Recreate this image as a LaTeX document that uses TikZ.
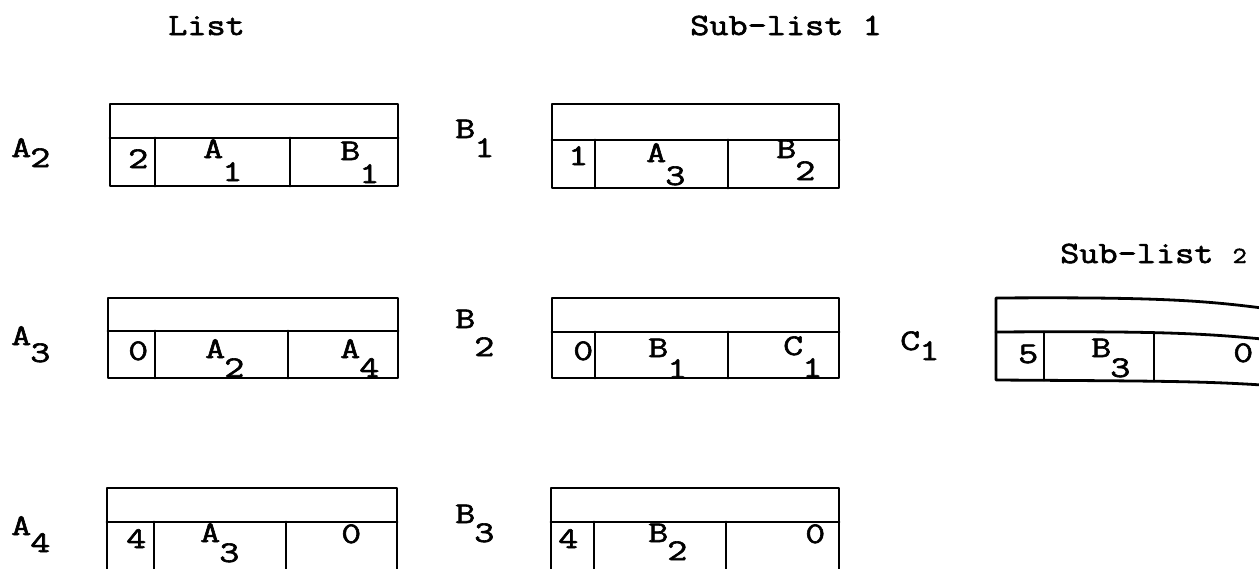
\documentclass[tikz,border=0pt]{standalone}
\usepackage{fontspec}
\newfontfamily\tw[FakeStretch=1.2,FakeBold=2]{Latin Modern Mono}
\newfontfamily\twwide[FakeStretch=1.3,FakeBold=2]{Latin Modern Mono}
% letter with a lowered index: #1 letter, #2 index, #3 drop in pt
\newcommand\idx[3]{#1\kern-1pt\raisebox{-#3pt}{#2}}
\tikzset{
  rule/.style={line width=2.8pt, line cap=round, line join=round},
  txt/.style={anchor=base west, inner sep=0pt, font=\twwide\fontsize{30}{32}\selectfont},
  head/.style={anchor=base west, inner sep=0pt, font=\tw\fontsize{31}{33}\selectfont}
}
% record box: x0 x1 ytop ymid ybot divider1 divider2
\newcommand\recbox[7]{%
  \draw[rule] (#1,#3) rectangle (#2,#5);
  \draw[rule] (#1,#4) -- (#2,#4);
  \draw[rule] (#6,#4) -- (#6,#5);
  \draw[rule] (#7,#4) -- (#7,#5);
}
\begin{document}
\begin{tikzpicture}[x=1pt,y=-1pt]
\clip (0,0) rectangle (1259,568);
\fill[white] (0,0) rectangle (1259,568);

% headings
\node[head] (hlist) at (168,35) {List};
\node[head] (hsub1) at (690,35) {Sub-list 1};
\node[head] (hsub2) at (1060,263) {Sub-list {\fontsize{23}{25}\selectfont 2}};

% list records
\recbox{110}{398}{104}{138}{186}{155}{290}
\recbox{108}{398}{298}{331}{378}{155}{288}
\recbox{107}{397}{488}{522}{572}{154}{286}
% sub-list 1 records
\recbox{552}{839}{104}{140}{188}{595}{728}
\recbox{552}{839}{298}{332}{378}{595}{728}
\recbox{551}{839}{488}{522}{572}{594}{726}
% sub-list 2 record, running off to the right
\draw[rule] (1262,308) .. controls (1200,300) and (1150,297) .. (996,298) -- (996,380)
  .. controls (1150,381) and (1200,381) .. (1262,385);
\draw[rule] (996,332) .. controls (1150,331) and (1200,333) .. (1262,339);
\draw[rule] (1044,332) -- (1044,380);
\draw[rule] (1154,333) -- (1154,381);

% record names
\node[txt] (la2) at (11,157) {\bfseries\idx{A}{2}{10}};
\node[txt] (la3) at (11,345) {\idx{A}{3}{17}};
\node[txt] (la4) at (11,535) {\idx{A}{4}{17}};
\node[txt] (lb1) at (455,138) {\idx{B}{1}{19}};
\node[txt] (lb2) at (455,328) {\idx{B}{2}{28}};
\node[txt] (lb3) at (455,523) {\idx{B}{3}{19}};
\node[txt] (lc1) at (900,350) {\idx{C}{1}{10}};

% record A2
\node[txt] (a2n) at (128,168) {2};
\node[txt] (a2p) at (203,158) {\idx{A}{1}{23}};
\node[txt] (a2q) at (340,160) {\idx{B}{1}{23}};
% record A3
\node[txt] (a3n) at (128,360) {0};
\node[txt] (a3p) at (205,358) {\idx{A}{2}{19}};
\node[txt] (a3q) at (340,358) {\idx{A}{4}{19}};
% record A4
\node[txt] (a4n) at (126,548) {4};
\node[txt] (a4p) at (200,542) {\idx{A}{3}{20}};
\node[txt] (a4q) at (341,543) {0};
% record B1
\node[txt] (b1n) at (568,165) {1};
\node[txt] (b1p) at (646,162) {\idx{A}{3}{23}};
\node[txt] (b1q) at (776,158) {\idx{B}{2}{22}};
% record B2
\node[txt] (b2n) at (573,360) {0};
\node[txt] (b2p) at (648,357) {\idx{B}{1}{21}};
\node[txt] (b2q) at (783,355) {\idx{C}{1}{22}};
% record B3
\node[txt] (b3n) at (558,548) {4};
\node[txt] (b3p) at (648,542) {\idx{B}{2}{18}};
\node[txt] (b3q) at (805,543) {0};
% record C1
\node[txt] (c1n) at (1018,363) {5};
\node[txt] (c1p) at (1091,357) {\idx{B}{3}{20}};
\node[txt] (c1q) at (1233,362) {0};
\end{tikzpicture}
\end{document}
